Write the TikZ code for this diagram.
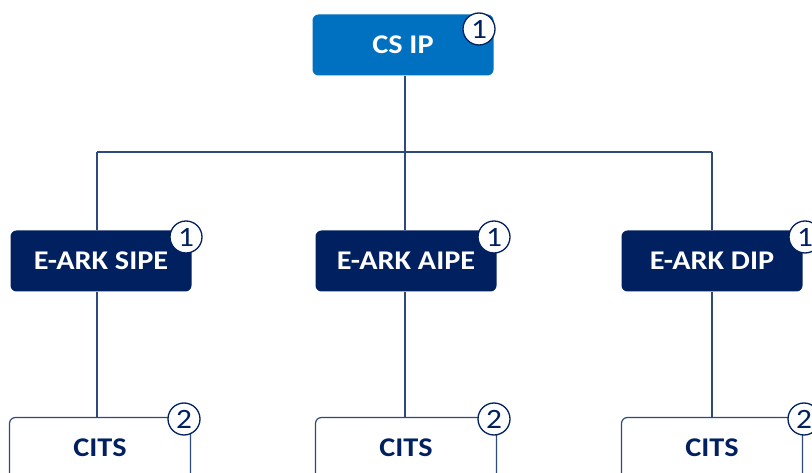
\documentclass[tikz,border=0pt]{standalone}
\usepackage{fontspec}
\setmainfont{Carlito}
\newfontfamily\boxfont[FakeStretch=1.12]{Carlito}
\definecolor{csblue}{HTML}{0070C0}
\definecolor{navy}{HTML}{002060}
\definecolor{wire}{HTML}{2E4A7D}
\begin{document}
\begin{tikzpicture}[x=1pt,y=-1pt,
  box/.style={rounded corners=6pt,minimum width=181pt,minimum height=61pt,inner sep=0pt,
    font=\boxfont\fontsize{27}{30}\selectfont\bfseries},
  topbox/.style={box,fill=csblue,text=white},
  midbox/.style={box,fill=navy,text=white},
  lowbox/.style={box,draw=wire,line width=1.2pt,fill=white,text=navy},
  badge/.style={circle,draw=navy,line width=1.3pt,fill=white,minimum size=32pt,inner sep=0pt,
    text=navy,font=\boxfont\fontsize{28}{30}\selectfont},
  wireline/.style={draw=wire,line width=1.1pt}]
\useasboundingbox (0,0) rectangle (812,473);
\fill[white] (0,0) rectangle (812,473);
% top
\node[topbox] (csip) at (403,45) {CS IP};
% bus
\coordinate (busL) at (97,152);
\coordinate (busM) at (405,152);
\coordinate (busR) at (712,152);
% middle row
\node[midbox] (sipe) at (101,261) {E-ARK SIPE};
\node[midbox] (aipe) at (406,261) {E-ARK AIPE};
\node[midbox] (dip) at (712,261) {E-ARK DIP};
% bottom row
\node[lowbox] (cits1) at (100,448) {CITS};
\node[lowbox] (cits2) at (406,448) {CITS};
\node[lowbox] (cits3) at (712,448) {CITS};
% connectors
\draw[wireline] (csip.south -| busM) -- (busM);
\draw[wireline] (busL) -- (busR);
\draw[wireline] (busL) -- (busL |- sipe.north);
\draw[wireline] (busM) -- (busM |- aipe.north);
\draw[wireline] (busR) -- (busR |- dip.north);
\draw[wireline] (busL |- sipe.south) -- (busL |- cits1.north);
\draw[wireline] (busM |- aipe.south) -- (busM |- cits2.north);
\draw[wireline] (busR |- dip.south) -- (busR |- cits3.north);
% badges
\node[badge] (b0) at (479,29) {1};
\node[badge] (b1) at (186,237) {1};
\node[badge] (b2) at (494,237) {1};
\node[badge] (b3) at (805,237) {1};
\node[badge] (b4) at (184,419) {2};
\node[badge] (b5) at (494,419) {2};
\node[badge] (b6) at (804,419) {2};
\end{tikzpicture}
\end{document}
